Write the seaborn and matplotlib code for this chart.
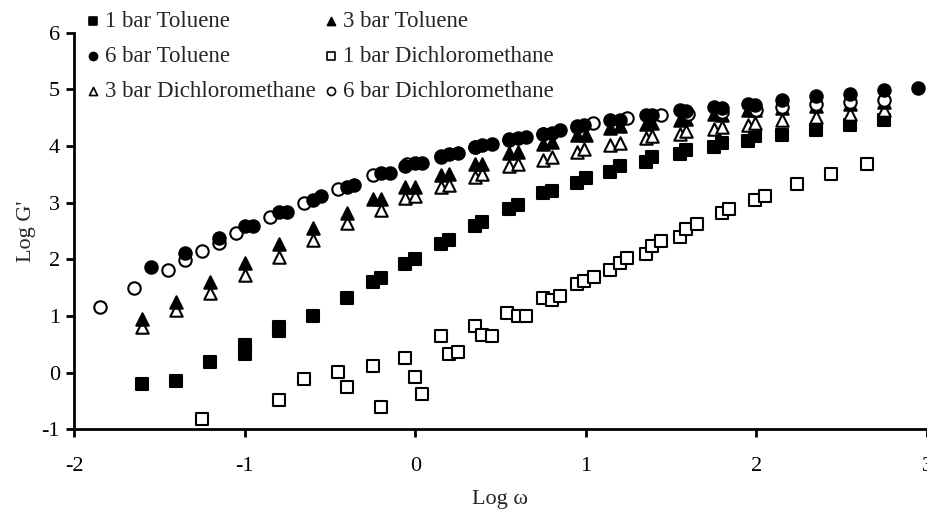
import numpy as np
import pandas as pd
import matplotlib
matplotlib.use("Agg")
import matplotlib.pyplot as plt
import seaborn as sns
from matplotlib.ticker import FixedLocator, FuncFormatter

# ---- data ----
t1_x = [-1.60,-1.40,-1.20,-1.00,-1.00,-0.80,-0.80,-0.60,-0.40,-0.25,-0.20,-0.06,0.00,0.15,0.20,0.35,0.39,0.55,0.60,0.75,0.80,0.95,1.00,1.14,1.20,1.35,1.39,1.55,1.59,1.75,1.80,1.95,1.99,2.15,2.35,2.55,2.75]
t1_y = [-0.20,-0.14,0.19,0.49,0.33,0.80,0.74,1.00,1.31,1.60,1.67,1.92,2.00,2.27,2.34,2.58,2.66,2.88,2.96,3.17,3.21,3.34,3.43,3.55,3.64,3.72,3.81,3.86,3.93,3.99,4.06,4.09,4.18,4.19,4.28,4.37,4.46]

t3_x = [-1.60,-1.40,-1.20,-1.00,-0.80,-0.60,-0.40,-0.25,-0.20,-0.06,0.00,0.15,0.20,0.35,0.39,0.55,0.60,0.75,0.80,0.95,1.00,1.14,1.20,1.35,1.39,1.55,1.59,1.75,1.80,1.95,1.99,2.15,2.35,2.55,2.75]
t3_y = [0.95,1.25,1.60,1.94,2.27,2.55,2.82,3.06,3.06,3.28,3.28,3.49,3.50,3.68,3.68,3.87,3.89,4.04,4.07,4.19,4.19,4.31,4.35,4.39,4.40,4.46,4.47,4.56,4.55,4.64,4.64,4.67,4.71,4.74,4.78]

t6_x = [-1.55,-1.35,-1.15,-1.00,-0.95,-0.80,-0.75,-0.60,-0.55,-0.40,-0.36,-0.20,-0.15,-0.06,0.00,0.04,0.15,0.20,0.25,0.35,0.39,0.45,0.55,0.60,0.65,0.75,0.80,0.85,0.95,0.99,1.14,1.20,1.35,1.39,1.55,1.59,1.75,1.80,1.95,1.99,2.15,2.35,2.55,2.75,2.95]
t6_y = [1.86,2.11,2.37,2.58,2.58,2.84,2.84,3.05,3.11,3.28,3.31,3.52,3.52,3.64,3.70,3.70,3.81,3.86,3.87,3.98,4.02,4.04,4.11,4.14,4.16,4.22,4.23,4.28,4.35,4.37,4.46,4.46,4.55,4.55,4.64,4.61,4.68,4.67,4.75,4.72,4.81,4.88,4.92,4.98,5.02]

d1_x = [-1.25,-0.80,-0.65,-0.45,-0.40,-0.25,-0.20,-0.06,0.00,0.04,0.15,0.20,0.25,0.35,0.39,0.45,0.54,0.60,0.65,0.75,0.80,0.85,0.95,0.99,1.05,1.14,1.20,1.24,1.35,1.39,1.44,1.55,1.59,1.65,1.80,1.84,1.99,2.05,2.24,2.44,2.65]
d1_y = [-0.82,-0.49,-0.11,0.01,-0.25,0.11,-0.61,0.25,-0.07,-0.38,0.65,0.33,0.37,0.82,0.67,0.64,1.06,1.00,1.00,1.31,1.28,1.35,1.56,1.62,1.68,1.81,1.93,2.02,2.09,2.24,2.32,2.39,2.54,2.62,2.81,2.88,3.05,3.12,3.33,3.51,3.68]

d3_x = [-1.60,-1.40,-1.20,-1.00,-0.80,-0.60,-0.40,-0.20,-0.06,0.00,0.15,0.20,0.35,0.39,0.55,0.60,0.75,0.80,0.95,0.99,1.14,1.20,1.35,1.39,1.55,1.59,1.75,1.80,1.95,1.99,2.15,2.35,2.55,2.75]
d3_y = [0.81,1.11,1.40,1.72,2.04,2.34,2.64,2.87,3.08,3.11,3.28,3.31,3.46,3.51,3.64,3.68,3.75,3.81,3.90,3.94,4.02,4.06,4.14,4.18,4.22,4.27,4.30,4.34,4.37,4.40,4.46,4.51,4.56,4.64]

d6_x = [-1.85,-1.65,-1.45,-1.35,-1.25,-1.15,-1.05,-0.85,-0.65,-0.45,-0.25,-0.05,0.15,0.35,0.55,0.75,0.95,1.04,1.24,1.44,1.60,1.80,2.00,2.15,2.35,2.55,2.75]
d6_y = [1.15,1.49,1.82,1.98,2.15,2.29,2.46,2.74,3.00,3.25,3.49,3.68,3.83,3.99,4.12,4.22,4.33,4.40,4.49,4.55,4.56,4.60,4.63,4.68,4.74,4.78,4.82]

series_names = ["1 bar Toluene", "3 bar Toluene", "6 bar Toluene",
                "1 bar Dichloromethane", "3 bar Dichloromethane", "6 bar Dichloromethane"]
x_ticks = [-2, -1, 0, 1, 2, 3]
y_ticks = [-1, 0, 1, 2, 3, 4, 5, 6]
x_label = "Log \u03c9"
y_label = "Log G'"

# ---- style ----
sns.set_style("ticks")
plt.rcParams["font.family"] = ["Liberation Serif", "DejaVu Serif"]
plt.rcParams["axes.unicode_minus"] = False

fig = plt.figure(figsize=(9.27, 5.09), dpi=100)
ax = fig.add_axes([74/927, 1 - 429.3/509, 1 - 74/927, (429.3 - 32.7)/509])

data = {
    "1 bar Dichloromethane": (d1_x, d1_y, "s", "white"),
    "1 bar Toluene": (t1_x, t1_y, "s", "black"),
    "3 bar Dichloromethane": (d3_x, d3_y, "^", "white"),
    "3 bar Toluene": (t3_x, t3_y, "^", "black"),
    "6 bar Dichloromethane": (d6_x, d6_y, "o", "white"),
    "6 bar Toluene": (t6_x, t6_y, "o", "black"),
}
sizes = {"s": 72, "^": 80, "o": 80}
for name, (xs, ys, mk, fc) in data.items():
    df = pd.DataFrame({"x": xs, "y": ys})
    sns.scatterplot(data=df, x="x", y="y", ax=ax, marker=mk, s=sizes[mk],
                    facecolor=fc, edgecolor="black", linewidth=1.5,
                    label=name, clip_on=False, zorder=3)

ax.set_xlim(-2, 3)
ax.set_ylim(-1, 6)
ax.xaxis.set_major_locator(FixedLocator(x_ticks))
ax.yaxis.set_major_locator(FixedLocator(y_ticks))
fmt = FuncFormatter(lambda v, p: "%d" % int(round(v)))
ax.xaxis.set_major_formatter(fmt)
ax.yaxis.set_major_formatter(fmt)
ax.tick_params(axis="both", direction="out", length=6, width=2, color="black",
               labelsize=16, labelcolor="black")
ax.tick_params(axis="x", pad=14)
ax.tick_params(axis="y", pad=4)
for side in ["top", "right"]:
    ax.spines[side].set_visible(False)
for side in ["left", "bottom"]:
    ax.spines[side].set_linewidth(2)
    ax.spines[side].set_color("black")
ax.spines["bottom"].set_clip_on(False)

ax.set_xlabel(x_label, fontsize=16, labelpad=10)
ax.set_ylabel(y_label, fontsize=16, labelpad=4)

handles, labels = ax.get_legend_handles_labels()
hmap = dict(zip(labels, handles))
order = ["1 bar Toluene", "6 bar Toluene", "3 bar Dichloromethane",
         "3 bar Toluene", "1 bar Dichloromethane", "6 bar Dichloromethane"]
leg = ax.legend([hmap[n] for n in order], order, ncol=2, frameon=False,
                fontsize=16.5, markerscale=0.65, handletextpad=0.1,
                handlelength=0.8, columnspacing=0.3, labelspacing=0.6,
                loc="upper left", bbox_to_anchor=(84/927, 1 - 11/509),
                bbox_transform=fig.transFigure, borderaxespad=0, borderpad=0)
for h in leg.legend_handles:
    h.set_linewidth(1.2)

fig.savefig("out.png", dpi=100)
